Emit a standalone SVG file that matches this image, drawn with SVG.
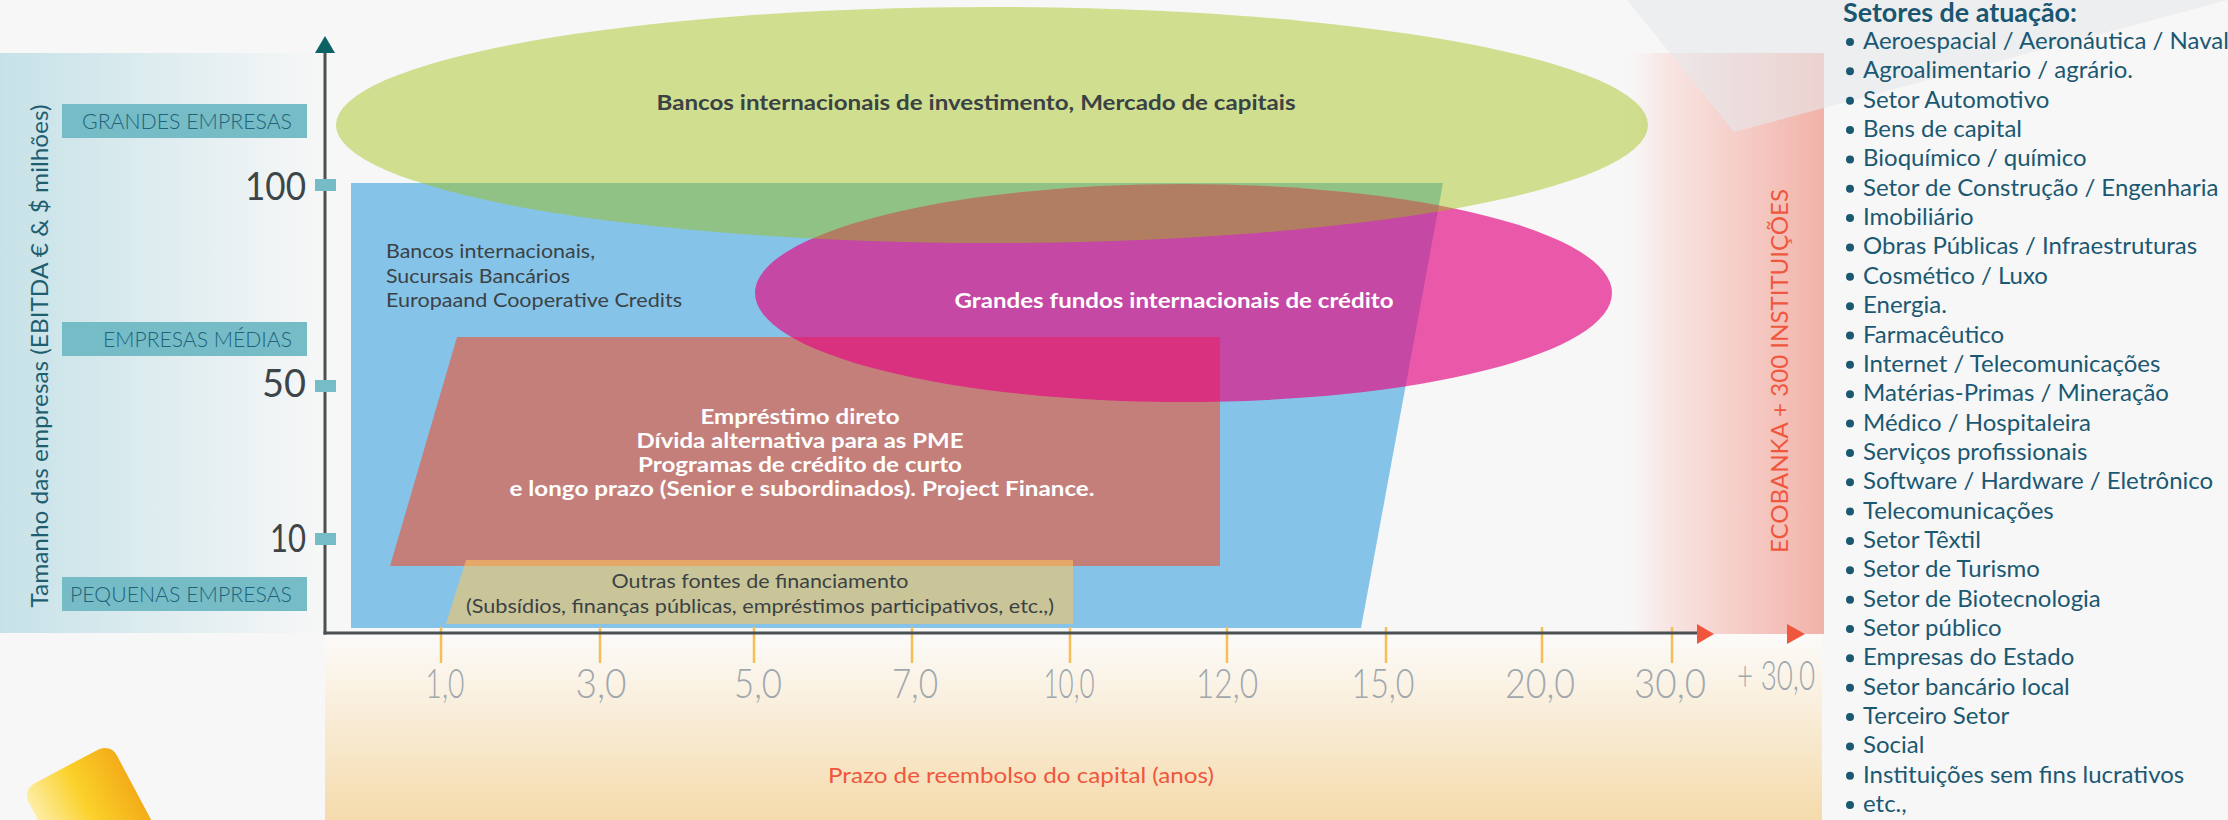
<svg xmlns="http://www.w3.org/2000/svg" width="2228" height="820" viewBox="0 0 2228 820">
<defs>
<linearGradient id="gLeft" x1="0" y1="0" x2="1" y2="0"><stop offset="0" stop-color="#c6e2e8"/><stop offset="1" stop-color="#f7f7f7"/></linearGradient>
<linearGradient id="gBottom" x1="0" y1="0" x2="0" y2="1"><stop offset="0" stop-color="#fcfbfa"/><stop offset="1" stop-color="#f5dbac"/></linearGradient>
<linearGradient id="gPink" x1="0" y1="0" x2="1" y2="0"><stop offset="0" stop-color="#f7f7f7" stop-opacity="0"/><stop offset="0.2" stop-color="#f8e8e6"/><stop offset="1" stop-color="#f2b2a8"/></linearGradient>
<linearGradient id="gYellow" x1="0" y1="0" x2="1" y2="0"><stop offset="0" stop-color="#fdeea6"/><stop offset="0.5" stop-color="#fbd12a"/><stop offset="1" stop-color="#f3ac18"/></linearGradient>
<style>
.lbl{font-family:Lato,"Liberation Sans",sans-serif;}
.box{fill:#75bcc7;}
.boxt{font-family:Lato,"Liberation Sans",sans-serif;font-weight:300;font-size:22px;fill:#21627a;text-anchor:end;}
.ynum{font-family:Lato,"Liberation Sans",sans-serif;font-weight:400;font-size:39px;fill:#3d4548;text-anchor:end;}
.xnum{font-family:Lato,"Liberation Sans",sans-serif;font-weight:300;font-size:42px;fill:#a0a7ad;text-anchor:middle;}
.ytick{fill:#75bcc7;}
.xtick{stroke:#f5bf55;stroke-width:2.5;}
.dark{font-family:Lato,"Liberation Sans",sans-serif;fill:#3b4245;}
.white{font-family:Lato,"Liberation Sans",sans-serif;fill:#ffffff;font-weight:700;}
.item{font-family:Lato,"Liberation Sans",sans-serif;font-size:24px;fill:#1b5872;}
.bul{fill:#1b5872;}
.red{fill:#f0563d;}
</style>
</defs>
<rect width="2228" height="820" fill="#f7f7f7"/>

<g id="background">
<rect x="0" y="53" width="325" height="580" fill="url(#gLeft)"/>
<rect x="325" y="633" width="1497" height="187" fill="url(#gBottom)"/>
<rect x="1618" y="53" width="206" height="581" fill="url(#gPink)"/>
<polygon points="1627,0 1734,132 2228,0" fill="#e6e7eb" opacity="0.6"/>
<rect x="0" y="0" width="100" height="110" rx="14" transform="translate(22,790) rotate(-28)" fill="url(#gYellow)"/>
</g>

<g id="node-blue">
<polygon points="351,183 1443,183 1361,628 351,628" fill="#85c4e8"/>
<text class="dark" font-size="20" x="386" y="258" textLength="209" lengthAdjust="spacingAndGlyphs">Bancos internacionais,</text>
<text class="dark" font-size="20" x="386" y="283" textLength="184" lengthAdjust="spacingAndGlyphs">Sucursais Bancários</text>
<text class="dark" font-size="20" x="386" y="307" textLength="296" lengthAdjust="spacingAndGlyphs">Europaand Cooperative Credits</text>
</g>

<g id="node-red">
<polygon points="457,337 1220,337 1220,566 390,566" fill="#c57f7a"/>
</g>

<g id="node-tan">
<polygon points="466,560 1073,560 1073,624 446,624" fill="#ffc65b" opacity="0.57"/>
<text class="dark" font-size="19" x="760" y="588" text-anchor="middle" textLength="297" lengthAdjust="spacingAndGlyphs">Outras fontes de financiamento</text>
<text class="dark" font-size="19" x="760" y="613" text-anchor="middle" textLength="588" lengthAdjust="spacingAndGlyphs">(Subsídios, finanças públicas, empréstimos participativos, etc.,)</text>
</g>

<g id="node-pink">
<ellipse cx="1183.5" cy="293" rx="428.5" ry="109" fill="#e20a81" opacity="0.67"/>
</g>

<g id="node-green">
<ellipse cx="992" cy="125" rx="656" ry="118" fill="#9ec210" opacity="0.45"/>
<text class="dark" font-size="21" font-weight="700" x="976" y="110" text-anchor="middle" textLength="639" lengthAdjust="spacingAndGlyphs">Bancos internacionais de investimento, Mercado de capitais</text>
</g>

<g id="labels-on-top">
<text class="white" font-size="21" x="1174" y="308" text-anchor="middle" textLength="439" lengthAdjust="spacingAndGlyphs">Grandes fundos internacionais de crédito</text>
<text class="white" font-size="20" x="800" y="424" text-anchor="middle" textLength="199" lengthAdjust="spacingAndGlyphs">Empréstimo direto</text>
<text class="white" font-size="20" x="800" y="448" text-anchor="middle" textLength="327" lengthAdjust="spacingAndGlyphs">Dívida alternativa para as PME</text>
<text class="white" font-size="20" x="800" y="472" text-anchor="middle" textLength="324" lengthAdjust="spacingAndGlyphs">Programas de crédito de curto</text>
<text class="white" font-size="20" x="802" y="496" text-anchor="middle" textLength="585" lengthAdjust="spacingAndGlyphs">e longo prazo (Senior e subordinados). Project Finance.</text>
</g>

<g id="size-labels">
<rect class="box" x="62" y="104" width="245" height="34"/>
<text class="boxt" x="292" y="129" textLength="210" lengthAdjust="spacingAndGlyphs">GRANDES EMPRESAS</text>
<rect class="box" x="62" y="322" width="245" height="34"/>
<text class="boxt" x="292" y="347" textLength="189" lengthAdjust="spacingAndGlyphs">EMPRESAS MÉDIAS</text>
<rect class="box" x="62" y="577" width="245" height="34"/>
<text class="boxt" x="292" y="602" textLength="222" lengthAdjust="spacingAndGlyphs">PEQUENAS EMPRESAS</text>
<text class="lbl" font-size="23" fill="#1f5e70" text-anchor="middle" transform="translate(48,356) rotate(-90)" textLength="503" lengthAdjust="spacingAndGlyphs">Tamanho das empresas (EBITDA € &amp; $ milhões)</text>
</g>

<g id="connectors">
<line class="xtick" x1="441" y1="627" x2="441" y2="663"/>
<line class="xtick" x1="600" y1="627" x2="600" y2="663"/>
<line class="xtick" x1="754" y1="627" x2="754" y2="663"/>
<line class="xtick" x1="912" y1="627" x2="912" y2="663"/>
<line class="xtick" x1="1070" y1="627" x2="1070" y2="663"/>
<line class="xtick" x1="1227" y1="627" x2="1227" y2="663"/>
<line class="xtick" x1="1386" y1="627" x2="1386" y2="663"/>
<line class="xtick" x1="1542" y1="627" x2="1542" y2="663"/>
<line class="xtick" x1="1672" y1="627" x2="1672" y2="663"/>
<line x1="325" y1="50" x2="325" y2="634.5" stroke="#4b5053" stroke-width="3"/>
<line x1="323.5" y1="633" x2="1700" y2="633" stroke="#4b5053" stroke-width="3"/>
<polygon points="315,53 325,36 335,53" fill="#0c6165"/>
<polygon points="1697,624 1714,634 1697,644" class="red"/>
<polygon points="1787,624 1805,634 1787,644" class="red"/>
<rect class="ytick" x="315" y="179" width="21" height="12"/>
<rect class="ytick" x="315" y="380" width="21" height="12"/>
<rect class="ytick" x="315" y="533" width="21" height="12"/>
</g>

<g id="axis-values">
<text class="ynum" x="306" y="200" textLength="61" lengthAdjust="spacingAndGlyphs">100</text>
<text class="ynum" x="306" y="397" textLength="44" lengthAdjust="spacingAndGlyphs">50</text>
<text class="ynum" x="306" y="552" textLength="36" lengthAdjust="spacingAndGlyphs">10</text>
<text class="xnum" x="445" y="698" textLength="39" lengthAdjust="spacingAndGlyphs">1,0</text>
<text class="xnum" x="601" y="698" textLength="51" lengthAdjust="spacingAndGlyphs">3,0</text>
<text class="xnum" x="758" y="698" textLength="48" lengthAdjust="spacingAndGlyphs">5,0</text>
<text class="xnum" x="915" y="698" textLength="46" lengthAdjust="spacingAndGlyphs">7,0</text>
<text class="xnum" x="1069" y="698" textLength="51" lengthAdjust="spacingAndGlyphs">10,0</text>
<text class="xnum" x="1227" y="698" textLength="62" lengthAdjust="spacingAndGlyphs">12,0</text>
<text class="xnum" x="1383" y="698" textLength="63" lengthAdjust="spacingAndGlyphs">15,0</text>
<text class="xnum" x="1540" y="698" textLength="70" lengthAdjust="spacingAndGlyphs">20,0</text>
<text class="xnum" x="1670" y="698" textLength="72" lengthAdjust="spacingAndGlyphs">30,0</text>
<text class="xnum" font-size="32" x="1776" y="690" textLength="78" lengthAdjust="spacingAndGlyphs">+ 30,0</text>
<text class="lbl red" font-size="22" x="1021" y="783" text-anchor="middle" textLength="386" lengthAdjust="spacingAndGlyphs">Prazo de reembolso do capital (anos)</text>
<text class="lbl red" font-size="24" text-anchor="middle" transform="translate(1788,371) rotate(-90)" textLength="364" lengthAdjust="spacingAndGlyphs">ECOBANKA + 300 INSTITUIÇÕES</text>
</g>

<g id="sectors">
<text class="lbl" font-size="26" font-weight="700" fill="#1b5670" x="1843" y="22" textLength="234" lengthAdjust="spacingAndGlyphs">Setores de atuação:</text>
<circle class="bul" cx="1850" cy="42" r="4"/><text class="item" x="1863" y="49">Aeroespacial / Aeronáutica / Naval</text>
<circle class="bul" cx="1850" cy="71.35" r="4"/><text class="item" x="1863" y="78.35">Agroalimentario / agrário.</text>
<circle class="bul" cx="1850" cy="100.7" r="4"/><text class="item" x="1863" y="107.7">Setor Automotivo</text>
<circle class="bul" cx="1850" cy="130.05" r="4"/><text class="item" x="1863" y="137.05">Bens de capital</text>
<circle class="bul" cx="1850" cy="159.4" r="4"/><text class="item" x="1863" y="166.4">Bioquímico / químico</text>
<circle class="bul" cx="1850" cy="188.75" r="4"/><text class="item" x="1863" y="195.75">Setor de Construção / Engenharia</text>
<circle class="bul" cx="1850" cy="218.1" r="4"/><text class="item" x="1863" y="225.1">Imobiliário</text>
<circle class="bul" cx="1850" cy="247.45" r="4"/><text class="item" x="1863" y="254.45">Obras Públicas / Infraestruturas</text>
<circle class="bul" cx="1850" cy="276.8" r="4"/><text class="item" x="1863" y="283.8">Cosmético / Luxo</text>
<circle class="bul" cx="1850" cy="306.15" r="4"/><text class="item" x="1863" y="313.15">Energia.</text>
<circle class="bul" cx="1850" cy="335.5" r="4"/><text class="item" x="1863" y="342.5">Farmacêutico</text>
<circle class="bul" cx="1850" cy="364.85" r="4"/><text class="item" x="1863" y="371.85">Internet / Telecomunicações</text>
<circle class="bul" cx="1850" cy="394.2" r="4"/><text class="item" x="1863" y="401.2">Matérias-Primas / Mineração</text>
<circle class="bul" cx="1850" cy="423.55" r="4"/><text class="item" x="1863" y="430.55">Médico / Hospitaleira</text>
<circle class="bul" cx="1850" cy="452.9" r="4"/><text class="item" x="1863" y="459.9">Serviços profissionais</text>
<circle class="bul" cx="1850" cy="482.25" r="4"/><text class="item" x="1863" y="489.25">Software / Hardware / Eletrônico</text>
<circle class="bul" cx="1850" cy="511.6" r="4"/><text class="item" x="1863" y="518.6">Telecomunicações</text>
<circle class="bul" cx="1850" cy="540.95" r="4"/><text class="item" x="1863" y="547.95">Setor Têxtil</text>
<circle class="bul" cx="1850" cy="570.3" r="4"/><text class="item" x="1863" y="577.3">Setor de Turismo</text>
<circle class="bul" cx="1850" cy="599.65" r="4"/><text class="item" x="1863" y="606.65">Setor de Biotecnologia</text>
<circle class="bul" cx="1850" cy="629" r="4"/><text class="item" x="1863" y="636">Setor público</text>
<circle class="bul" cx="1850" cy="658.35" r="4"/><text class="item" x="1863" y="665.35">Empresas do Estado</text>
<circle class="bul" cx="1850" cy="687.7" r="4"/><text class="item" x="1863" y="694.7">Setor bancário local</text>
<circle class="bul" cx="1850" cy="717.05" r="4"/><text class="item" x="1863" y="724.05">Terceiro Setor</text>
<circle class="bul" cx="1850" cy="746.4" r="4"/><text class="item" x="1863" y="753.4">Social</text>
<circle class="bul" cx="1850" cy="775.75" r="4"/><text class="item" x="1863" y="782.75">Instituições sem fins lucrativos</text>
<circle class="bul" cx="1850" cy="805.1" r="4"/><text class="item" x="1863" y="812.1">etc.,</text>
</g>
</svg>
